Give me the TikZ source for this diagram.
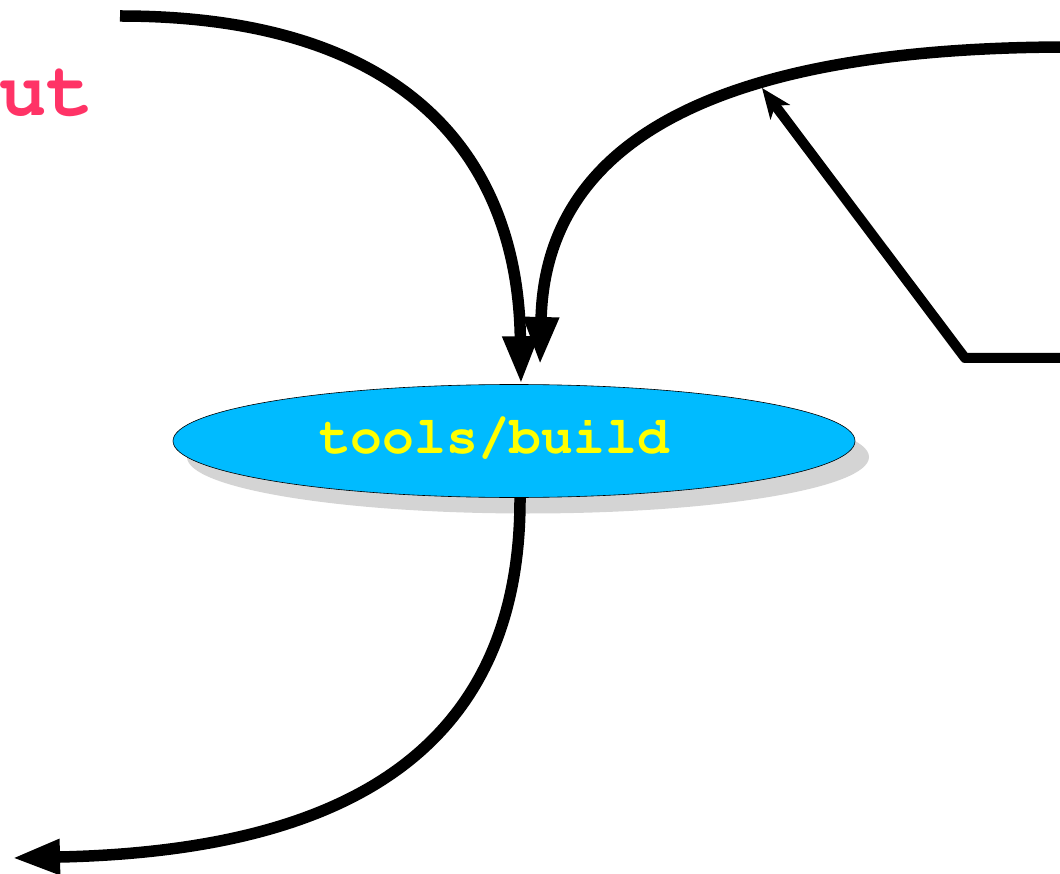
\documentclass[tikz,border=0pt]{standalone}
\usetikzlibrary{arrows.meta,shapes.geometric,shadows}
\definecolor{pinktext}{HTML}{FF3366}
\definecolor{skyfill}{HTML}{00BBFF}
\definecolor{shadowgray}{HTML}{D4D4D4}
\definecolor{labelyellow}{HTML}{FFFF00}
\newcommand{\courbold}{\fontencoding{OT1}\fontfamily{pcr}\fontseries{b}\selectfont}
\begin{document}
\begin{tikzpicture}[x=1pt,y=-1pt,
  flow/.style={line width=11.5pt, -{Triangle[length=48pt,width=33pt]}},
  feed/.style={line width=10pt, line join=round, -{Stealth[length=30pt,width=24pt,inset=8pt]}},
  buildnode/.style={ellipse, draw=black, line width=0.6pt, fill=skyfill,
     minimum width=682pt, minimum height=113pt, inner sep=0pt,
     drop shadow={shadow xshift=14pt, shadow yshift=-16pt, fill=shadowgray, opacity=1}},
  buildtext/.style={text=labelyellow, font=\courbold\fontsize{53}{53}\selectfont, inner sep=0pt, anchor=base},
  sidetext/.style={text=pinktext, font=\courbold\fontsize{79}{79}\selectfont, inner sep=0pt, anchor=base west}
]
\useasboundingbox (0,0) rectangle (1060,874);
\clip (0,0) rectangle (1060,874);

\node[buildnode] (build) at (514,441) {};
\node[buildtext] (buildlabel) at (494,453) {tools/build};
\node[sidetext] (sidelabel) at (-1,116) {ut};

\coordinate (src1) at (120,16);
\coordinate (src2) at (1070,47);
\coordinate (tip2) at (540,365);
\coordinate (out3) at (12,858);
\coordinate (feedstart) at (1070,358);
\coordinate (feedcorner) at (965,358);
\coordinate (feedtip) at (762,88);

\draw[flow] (src1) .. controls (420,16) and (518,170) .. ([xshift=7pt]build.north);
\draw[flow] (src2) .. controls (700,47) and (545,150) .. (tip2);
\draw[flow] ([xshift=6pt]build.south) .. controls (521,780) and (300,852) .. (out3);
\draw[feed] (feedstart) -- (feedcorner) -- (feedtip);
\end{tikzpicture}
\end{document}
